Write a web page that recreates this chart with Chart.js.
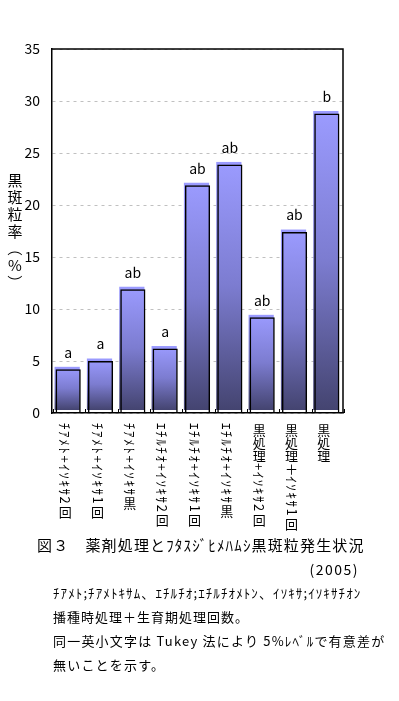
<!DOCTYPE html>
<html>
<head>
<meta charset="utf-8">
<script src="https://cdn.jsdelivr.net/npm/chart.js@4.4.1/dist/chart.umd.min.js"></script>
<style>
body { margin: 0; background: #fff; font-family: "Noto Sans CJK JP", sans-serif; }
#wrap { position: absolute; left: 0; top: 0; width: 399px; height: 545px; }
.t { position: absolute; white-space: nowrap; color: #000; line-height: 1; }
</style>
</head>
<body>
<div id="wrap"><canvas id="chart" width="399" height="545"></canvas></div>
<div class="t" style="left:37px; top:537px; font-size:15px; letter-spacing:1.15px;">図３　薬剤処理とﾌﾀｽｼﾞﾋﾒﾊﾑｼ黒斑粒発生状況</div>
<div class="t" style="right:40px; top:562px; font-size:14px; letter-spacing:1.5px;">(2005)</div>
<div class="t" style="left:53px; top:586px; font-size:13px; letter-spacing:1.1px;">ﾁｱﾒﾄ;ﾁｱﾒﾄｷｻﾑ、ｴﾁﾙﾁｵ;ｴﾁﾙﾁｵﾒﾄﾝ、ｲｿｷｻ;ｲｿｷｻﾁｵﾝ</div>
<div class="t" style="left:53px; top:610px; font-size:13px; letter-spacing:1px;">播種時処理＋生育期処理回数。</div>
<div class="t" style="left:53px; top:634px; font-size:13px; letter-spacing:1.2px;">同一英小文字は Tukey 法により 5%ﾚﾍﾞﾙで有意差が</div>
<div class="t" style="left:53px; top:658px; font-size:13px; letter-spacing:1.2px;">無いことを示す。</div>
<script>
const categories = [
    "ﾁｱﾒﾄ+ｲｿｷｻ2回",
    "ﾁｱﾒﾄ+ｲｿｷｻ1回",
    "ﾁｱﾒﾄ+ｲｿｷｻ黒",
    "ｴﾁﾙﾁｵ+ｲｿｷｻ2回",
    "ｴﾁﾙﾁｵ+ｲｿｷｻ1回",
    "ｴﾁﾙﾁｵ+ｲｿｷｻ黒",
    "黒処理+ｲｿｷｻ2回",
    "黒処理＋ｲｿｷｻ1回",
    "黒処理"
];
const rates = [4.2, 5.0, 11.9, 6.2, 21.9, 23.9, 9.2, 17.4, 28.8];
const letters = ["a", "a", "ab", "a", "ab", "ab", "ab", "ab", "b"];
const yTitle = "黒斑粒率（%）";

const FONT = '"Noto Sans CJK JP", sans-serif';

function isHalf(ch) {
    const c = ch.charCodeAt(0);
    return c < 0x100 || (c >= 0xff61 && c <= 0xff9f);
}

// vertical writing: full-width upright, half-width turned 90deg
function drawVertical(ctx, text, x, y, size, fullStep, halfGap) {
    ctx.font = size + "px " + FONT;
    for (const ch of text) {
        if (isHalf(ch) && ch !== "%") {
            const w = ctx.measureText(ch).width;
            ctx.save();
            ctx.translate(x, y);
            ctx.rotate(Math.PI / 2);
            ctx.textAlign = "left";
            ctx.textBaseline = "middle";
            ctx.fillText(ch, 0, 0);
            ctx.restore();
            y += w + halfGap;
        } else if (ch === "（" || ch === "）") {
            ctx.save();
            ctx.translate(x, y + fullStep / 2);
            ctx.rotate(Math.PI / 2);
            ctx.textAlign = "center";
            ctx.textBaseline = "middle";
            ctx.fillText(ch, 0, 0);
            ctx.restore();
            y += fullStep;
        } else {
            ctx.textAlign = "center";
            ctx.textBaseline = "middle";
            ctx.fillText(ch, x, y + fullStep / 2);
            y += fullStep;
        }
    }
}

const barDeco = {
    id: "barDeco",
    beforeDatasetsDraw(chart) {
        const ctx = chart.ctx;
        const meta = chart.getDatasetMeta(0);
        meta.data.forEach(bar => {
            const p = bar.getProps(["x", "y", "base", "width"], true);
            const left = p.x - p.width / 2 - 1;
            const top = p.y - 2.5;
            const h = p.base - p.y;
            const g = ctx.createLinearGradient(0, top, 0, top + h);
            g.addColorStop(0, "#9b9bff");
            g.addColorStop(0.5, "#7c7cd0");
            g.addColorStop(1, "#444470");
            ctx.fillStyle = g;
            ctx.fillRect(left, top, p.width, h);
        });
    },
    afterDraw(chart) {
        const ctx = chart.ctx;
        const area = chart.chartArea;
        const xs = chart.scales.x;
        ctx.save();

        // frame top/right
        ctx.strokeStyle = "#000";
        ctx.lineWidth = 1.5;
        ctx.beginPath();
        ctx.moveTo(area.left, area.top);
        ctx.lineTo(area.right, area.top);
        ctx.lineTo(area.right, area.bottom);
        ctx.stroke();

        // small inner ticks at category edges
        ctx.lineWidth = 1;
        for (let i = 0; i <= categories.length; i++) {
            const px = Math.round(xs.getPixelForValue(i - 0.5)) + 1.5;
            ctx.beginPath();
            ctx.moveTo(px, area.bottom);
            ctx.lineTo(px, area.bottom - 4);
            ctx.stroke();
        }

        ctx.fillStyle = "#000";

        // letters above bars
        ctx.font = "14px " + FONT;
        ctx.textAlign = "center";
        ctx.textBaseline = "middle";
        const meta = chart.getDatasetMeta(0);
        meta.data.forEach((bar, i) => {
            ctx.fillText(letters[i], bar.x, bar.y - 17);
        });

        // category labels
        categories.forEach((c, i) => {
            const px = xs.getPixelForValue(i) - 3;
            drawVertical(ctx, c, px, area.bottom + 10, 13, 13.3, 1.6);
        });

        // y axis title
        drawVertical(ctx, yTitle, 15, 172, 15, 17, 1);

        ctx.restore();
    }
};

const ctx = document.getElementById("chart").getContext("2d");

new Chart(ctx, {
    type: "bar",
    data: {
        labels: categories,
        datasets: [{
            data: rates,
            backgroundColor: "rgba(0,0,0,0)",
            borderColor: "#000",
            borderWidth: 1.5,
            barPercentage: 0.78,
            categoryPercentage: 1
        }]
    },
    options: {
        responsive: false,
        animation: false,
        layout: { padding: { left: 0, right: 56, top: 49, bottom: 0 } },
        plugins: {
            legend: { display: false },
            tooltip: { enabled: false }
        },
        scales: {
            x: {
                ticks: { display: false },
                grid: { display: false },
                border: { color: "#000", width: 1.5 },
                afterFit(s) { s.height = 132; }
            },
            y: {
                min: 0,
                max: 35,
                ticks: {
                    stepSize: 5,
                    padding: 12,
                    color: "#000",
                    font: { family: FONT, size: 14 }
                },
                grid: { color: "#c0c0c0", drawTicks: false },
                border: { color: "#000", width: 1.5, dash: [3, 4] },
                afterFit(s) { s.width = 52; }
            }
        }
    },
    plugins: [barDeco]
});
</script>
</body>
</html>
